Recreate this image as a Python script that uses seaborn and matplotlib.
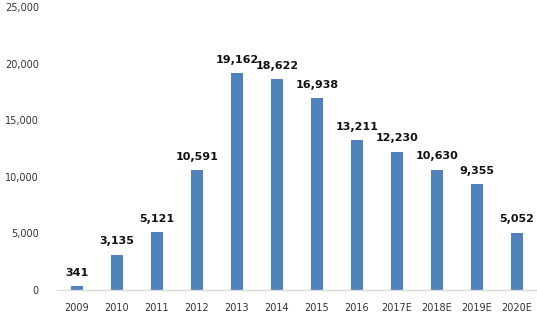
import matplotlib
matplotlib.use("Agg")
import matplotlib.pyplot as plt
import seaborn as sns
import pandas as pd

years = ["2009", "2010", "2011", "2012", "2013", "2014", "2015", "2016",
         "2017E", "2018E", "2019E", "2020E"]
values = [341, 3135, 5121, 10591, 19162, 18622, 16938, 13211, 12230, 10630, 9355, 5052]
yticks = [0, 5000, 10000, 15000, 20000, 25000]

sns.set_theme(style="white")
plt.rcParams['font.family'] = ['DejaVu Sans']

df = pd.DataFrame({"year": years, "value": values})
fig = plt.figure(figsize=(5.37, 3.26), dpi=100)
ax = fig.add_axes([0.106, 0.110, 0.894, 0.869])
sns.barplot(data=df, x="year", y="value", color="#4F81BD", width=0.31, ax=ax,
            saturation=1, linewidth=0, edgecolor="none")

for i, v in enumerate(values):
    ax.text(i, v + 750, f"{v:,}", ha="center", va="bottom", fontsize=8,
            fontweight="bold", color="#111111")

ax.set_ylim(0, 25000)
ax.set_xlim(-0.5, len(years) - 0.5)
ax.set_yticks(yticks)
ax.set_yticklabels([f"{t:,}" for t in yticks], fontsize=7, color="#333333")
ax.set_xticklabels(years, fontsize=7, color="#333333")
ax.tick_params(axis="x", length=0, pad=9)
ax.tick_params(axis="y", length=0, pad=13)
ax.set_xlabel("")
ax.set_ylabel("")
for s in ["top", "right", "left"]:
    ax.spines[s].set_visible(False)
ax.spines["bottom"].set_color("#D9D9D9")
ax.spines["bottom"].set_linewidth(1)

fig.savefig("out.png", dpi=100)
